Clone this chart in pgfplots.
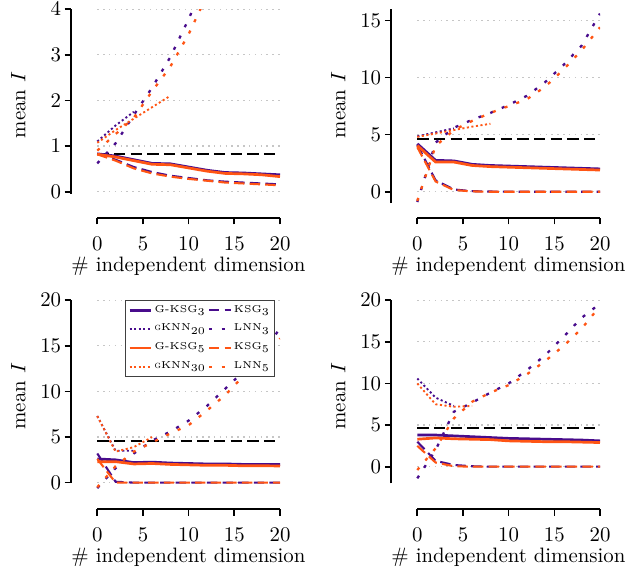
\documentclass[border=0pt]{standalone}
\usepackage{pgfplots}
\pgfplotsset{compat=1.18}
\definecolor{cpurple}{RGB}{72,12,140}
\definecolor{corange}{RGB}{255,85,20}
\pgfplotsset{
  panel/.style={
    scale only axis, width=100.32pt, height=100.32pt,
    xmin=-2.88, xmax=20,
    xtick={0,5,10,15,20},
    tick pos=left, tick align=outside,
    major tick length=3pt,
    every tick/.style={black, line width=0.8pt},
    axis line style={draw=none},
    clip mode=individual,
    xticklabel style={yshift=-2.5pt},
    yticklabel style={xshift=1.8pt},
    xlabel={\# independent dimension},
    ylabel={mean $I$},
    xlabel style={at={(axis description cs:0.562,-0.255)}, anchor=base},
    ylabel style={at={(axis description cs:-0.252,0.541)}, anchor=center},
    legend columns=2,
    legend image code/.code={\draw[##1] (0pt,0pt) -- (10.5pt,0pt);},
  },
  gksg/.style={line width=1.3pt, solid},
  ksg/.style={line width=1pt, dash pattern=on 5pt off 2.5pt},
  gknn/.style={line width=0.9pt, dash pattern=on 1pt off 1.2pt},
  lnn/.style={line width=1.1pt, dash pattern=on 1.5pt off 4.5pt},
  truth/.style={black, line width=1pt, dash pattern=on 5.5pt off 2.5pt, forget plot},
  gridl/.style={gray!45, line width=0.6pt, dash pattern=on 0.7pt off 2.1pt, forget plot},
}
\newcommand{\spines}[3]{% #1 box ymin, #2 spine low, #3 spine high
  \draw[line width=0.9pt] (axis cs:0,#1) -- (axis cs:20,#1);
  \draw[line width=0.9pt] (axis cs:-2.88,#2) -- (axis cs:-2.88,#3);
}
\begin{document}
\begin{tikzpicture}
\path[use as bounding box] (-34.08pt,4.32pt) rectangle (267.84pt,-267.36pt);

% === top left ===
\begin{axis}[panel, at={(0pt,0pt)}, anchor=north west,
  ymin=-0.576, ymax=4, ytick={0,1,2,3,4}]
\pgfplotsinvokeforeach{0,1,2,3,4}{\addplot[gridl] coordinates {(0,#1) (20,#1)};}
\addplot[truth] coordinates {(0,0.83) (20,0.83)};
\addplot[cpurple, gksg] coordinates {(0,0.83) (2,0.78) (4,0.70) (6,0.62) (8,0.61) (10,0.54) (12,0.47) (14,0.42) (16,0.41) (18,0.39) (20,0.37)};
\addplot[cpurple, ksg] coordinates {(0,0.83) (2,0.70) (4,0.54) (6,0.43) (8,0.35) (10,0.30) (12,0.25) (14,0.22) (16,0.20) (18,0.18) (20,0.16)};
\addplot[cpurple, gknn] coordinates {(0,1.10) (2,1.45) (4,1.75)};
\addplot[cpurple, lnn] coordinates {(0,0.62) (2,1.06) (4,1.68) (6,2.28) (8,2.95) (10,3.78) (12,4.70)};
\addplot[corange, gksg] coordinates {(0,0.82) (2,0.76) (4,0.68) (6,0.60) (8,0.59) (10,0.52) (12,0.45) (14,0.40) (16,0.39) (18,0.37) (20,0.33)};
\addplot[corange, ksg] coordinates {(0,0.82) (2,0.68) (4,0.51) (6,0.40) (8,0.33) (10,0.28) (12,0.24) (14,0.20) (16,0.18) (18,0.16) (20,0.14)};
\addplot[corange, gknn] coordinates {(0,1.07) (2,1.35) (4,1.60) (6,1.85) (8,2.10)};
\addplot[corange, lnn] coordinates {(0,0.90) (2,1.26) (4,1.62) (6,2.20) (8,2.74) (10,3.45) (12,4.30)};
\spines{-0.576}{-0.04}{4}
\end{axis}

% === top right ===
\begin{axis}[panel, at={(153.6pt,0pt)}, anchor=north west,
  ymin=-2.30, ymax=16.0, ytick={0,5,10,15}]
\pgfplotsinvokeforeach{0,5,10,15}{\addplot[gridl] coordinates {(0,#1) (20,#1)};}
\addplot[truth] coordinates {(0,4.6) (20,4.6)};
\addplot[cpurple, gksg] coordinates {(0,4.20) (2,2.75) (4,2.70) (6,2.40) (8,2.30) (10,2.25) (12,2.20) (14,2.15) (16,2.10) (18,2.05) (20,2.00)};
\addplot[cpurple, ksg] coordinates {(0,4.10) (2,1.00) (4,0.20) (6,0.05) (8,0.02) (10,0) (12,0) (14,0) (16,0) (18,0) (20,0)};
\addplot[cpurple, gknn] coordinates {(0,4.85) (2,5.20) (4,5.55)};
\addplot[cpurple, lnn] coordinates {(0,-0.90) (2,4.30) (4,5.60) (6,6.30) (8,6.90) (10,7.60) (12,8.40) (14,9.60) (16,11.10) (18,12.80) (20,15.60)};
\addplot[corange, gksg] coordinates {(0,4.05) (2,2.60) (4,2.60) (6,2.30) (8,2.20) (10,2.15) (12,2.10) (14,2.05) (16,2.00) (18,1.95) (20,1.90)};
\addplot[corange, ksg] coordinates {(0,3.90) (2,0.90) (4,0.15) (6,0.03) (8,0) (10,0) (12,0) (14,0) (16,0) (18,0) (20,0)};
\addplot[corange, gknn] coordinates {(0,4.80) (2,5.10) (4,5.40) (6,5.70) (8,5.95)};
\addplot[corange, lnn] coordinates {(0,-0.80) (2,4.00) (4,5.40) (6,6.20) (8,6.90) (10,7.50) (12,8.10) (14,9.20) (16,10.70) (18,12.40) (20,14.40)};
\spines{-2.30}{-1.0}{16.0}
\end{axis}

% === bottom left ===
\begin{axis}[panel, at={(0pt,-139.8pt)}, anchor=north west,
  ymin=-2.92, ymax=20, ytick={0,5,10,15,20},
  legend style={at={(axis description cs:0.976,1)}, anchor=north east,
    font=\fontsize{4.8}{5.6}\selectfont, draw=black!75, line width=0.5pt,
    nodes={inner sep=0.9pt},
    cells={anchor=west}, row sep=2.4pt, column sep=0pt, inner sep=1.2pt}]
\pgfplotsinvokeforeach{0,5,10,15,20}{\addplot[gridl] coordinates {(0,#1) (20,#1)};}
\addplot[truth] coordinates {(0,4.6) (20,4.6)};
\addplot[cpurple, gksg] coordinates {(0,2.60) (2,2.50) (4,2.20) (6,2.25) (8,2.15) (10,2.10) (12,2.05) (14,2.05) (16,2.00) (18,2.00) (20,2.00)};
\addlegendentry{G-KSG$_3$}
\addplot[cpurple, ksg] coordinates {(0,3.20) (2,0.10) (4,0) (6,0) (8,0) (10,0) (12,0) (14,0) (16,0) (18,0) (20,0)};
\addlegendentry{KSG$_3$}
\addplot[cpurple, gknn] coordinates {(0,7.30) (2,3.50) (4,3.50)};
\addlegendentry{\textsc{g}KNN$_{20}$}
\addplot[cpurple, lnn] coordinates {(0,-0.60) (2,1.60) (4,3.20) (6,4.60) (8,5.60) (10,6.80) (12,8.40) (14,10.30) (16,12.20) (18,14.20) (20,16.90)};
\addlegendentry{LNN$_3$}
\addplot[corange, gksg] coordinates {(0,2.30) (2,2.30) (4,2.05) (6,2.10) (8,2.00) (10,1.95) (12,1.90) (14,1.90) (16,1.85) (18,1.85) (20,1.83)};
\addlegendentry{G-KSG$_5$}
\addplot[corange, ksg] coordinates {(0,2.60) (2,0) (4,0) (6,0) (8,0) (10,0) (12,0) (14,0) (16,0) (18,0) (20,0)};
\addlegendentry{KSG$_5$}
\addplot[corange, gknn] coordinates {(0,7.30) (2,3.40) (4,3.90) (6,5.00)};
\addlegendentry{\textsc{g}KNN$_{30}$}
\addplot[corange, lnn] coordinates {(0,-0.50) (2,1.80) (4,3.40) (6,4.40) (8,5.40) (10,6.30) (12,7.90) (14,9.60) (16,11.70) (18,14.00) (20,15.80)};
\addlegendentry{LNN$_5$}
\spines{-2.92}{0}{20}
\end{axis}

% === bottom right ===
\begin{axis}[panel, at={(153.6pt,-139.8pt)}, anchor=north west,
  ymin=-5.12, ymax=20, ytick={0,5,10,15,20}]
\pgfplotsinvokeforeach{0,5,10,15,20}{\addplot[gridl] coordinates {(0,#1) (20,#1)};}
\addplot[truth] coordinates {(0,4.6) (20,4.6)};
\addplot[cpurple, gksg] coordinates {(0,3.80) (2,3.80) (4,3.70) (6,3.60) (8,3.50) (10,3.40) (12,3.35) (14,3.30) (16,3.25) (18,3.20) (20,3.10)};
\addplot[cpurple, ksg] coordinates {(0,3.00) (2,0.70) (4,0.20) (6,0.05) (8,0) (10,0) (12,0) (14,0) (16,0) (18,0) (20,0)};
\addplot[cpurple, gknn] coordinates {(0,10.60) (2,8.30) (4,7.30)};
\addplot[cpurple, lnn] coordinates {(0,-1.40) (2,2.00) (4,6.60) (6,7.70) (8,8.90) (10,10.00) (12,11.60) (14,13.40) (16,15.60) (18,17.90) (20,19.60)};
\addplot[corange, gksg] coordinates {(0,3.30) (2,3.45) (4,3.35) (6,3.30) (8,3.25) (10,3.10) (12,3.05) (14,3.00) (16,3.00) (18,2.95) (20,2.90)};
\addplot[corange, ksg] coordinates {(0,2.50) (2,0.50) (4,0.05) (6,0) (8,0) (10,0) (12,0) (14,0) (16,0) (18,0) (20,0)};
\addplot[corange, gknn] coordinates {(0,10.00) (2,7.50) (4,7.20) (6,7.30)};
\addplot[corange, lnn] coordinates {(0,-0.40) (2,2.20) (4,5.80) (6,7.80) (8,8.90) (10,9.80) (12,11.10) (14,12.70) (16,14.50) (18,16.60) (20,19.30)};
\spines{-5.12}{-2}{20}
\end{axis}
\end{tikzpicture}
\end{document}
